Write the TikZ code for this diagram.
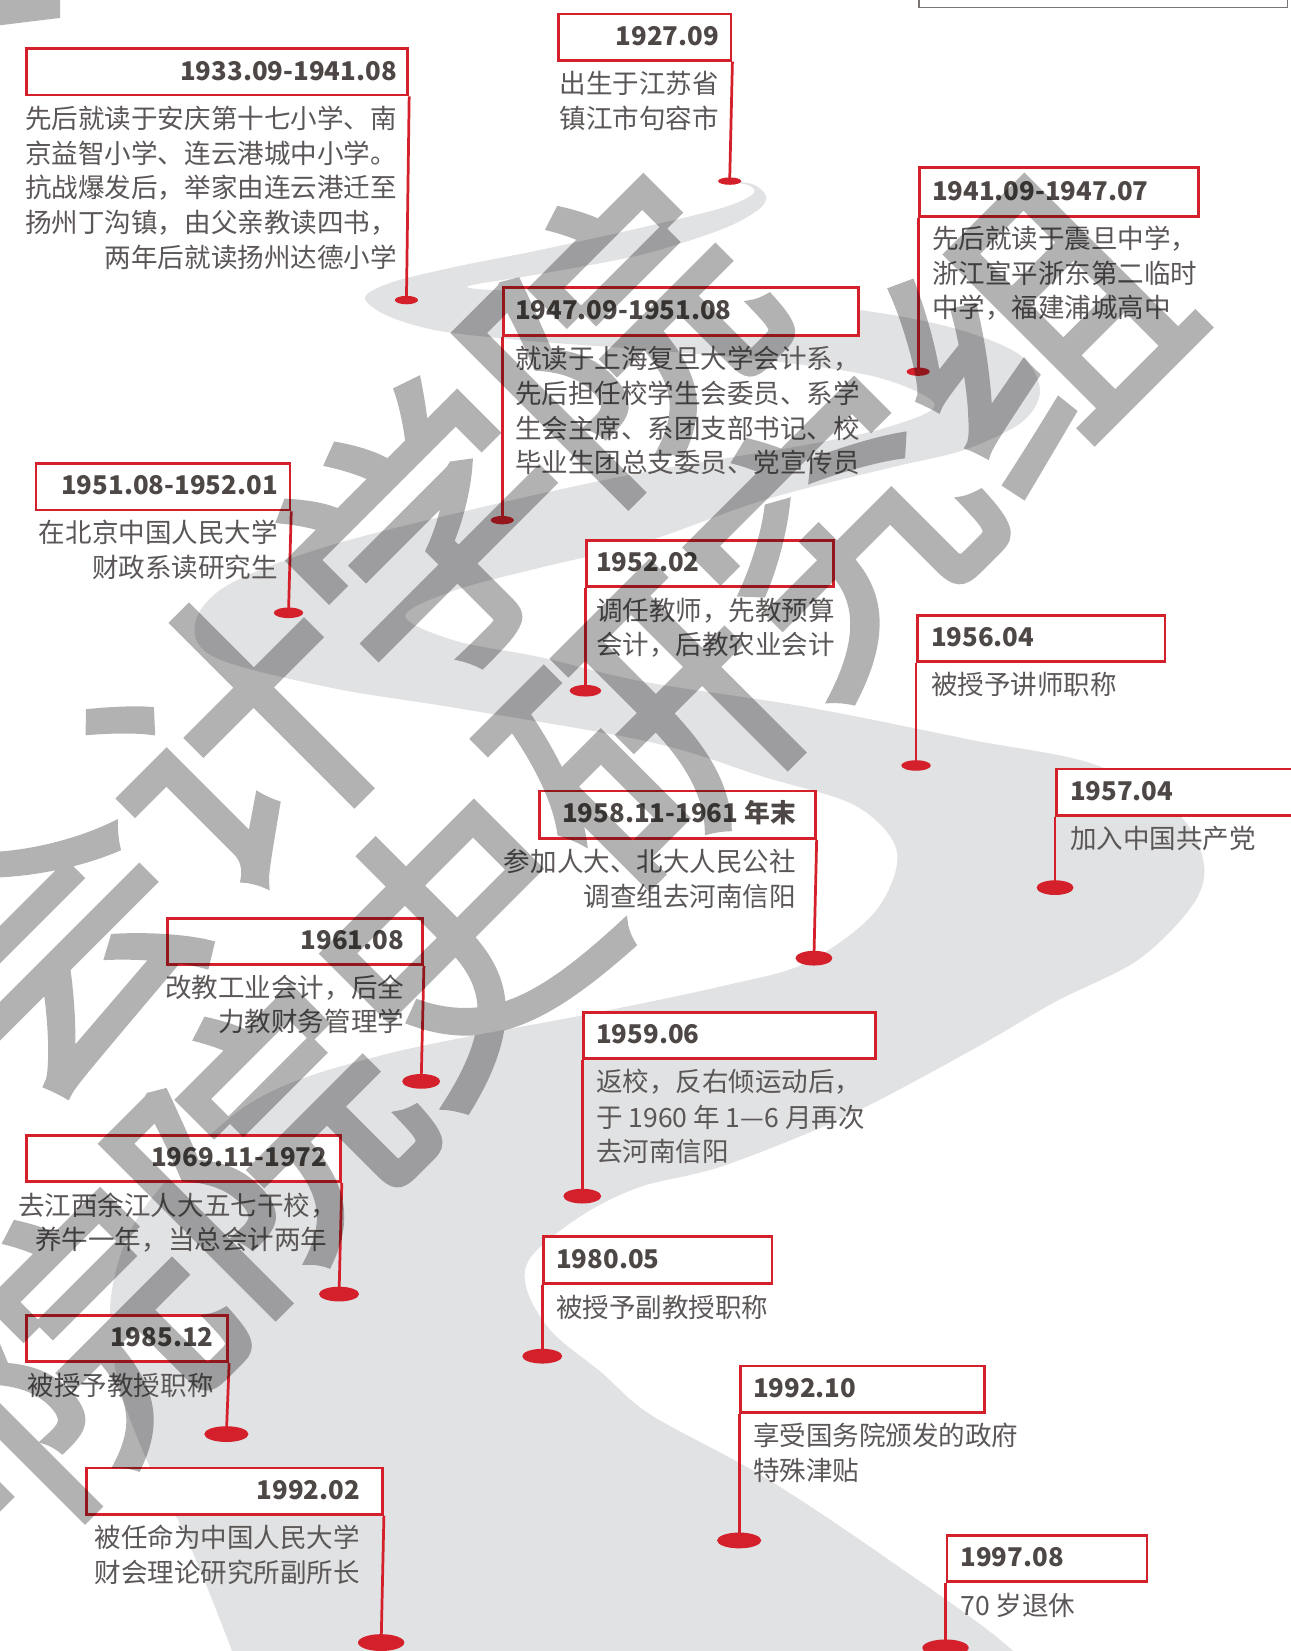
\documentclass[tikz,border=0pt]{standalone}
\usepackage{fontspec}
\setmainfont{Noto Sans CJK SC}
\newfontfamily\wmfont[FakeBold=2.5]{Noto Sans CJK SC}
\usetikzlibrary{shapes.geometric}
\definecolor{rred}{HTML}{D4202A}
\definecolor{datec}{HTML}{4D4846}
\definecolor{bodyc}{HTML}{5B5756}
\definecolor{road}{HTML}{E1E2E4}
\definecolor{framec}{HTML}{7A7573}
\tikzset{
  evbox/.style={rectangle, draw=rred, line width=2.6pt, fill=white, inner sep=0pt, anchor=north west},
  evdot/.style={ellipse, fill=rred, inner sep=0pt},
  evstem/.style={draw=rred, line width=2.6pt},
  datetxt/.style={inner sep=0pt, text=datec, font=\fontsize{24.5}{24.5}\selectfont\bfseries},
  bodytxt/.style={inner sep=0pt, text=bodyc, font=\fontsize{25.2}{25.2}\selectfont},
  wmark/.style={inner sep=0pt, rotate=45, text=black, font=\wmfont\fontsize{265}{265}\selectfont},
}
\begin{document}
\begin{tikzpicture}[x=1pt,y=-1pt]
\useasboundingbox (0,0) rectangle (1226,1568);
\clip (0,0) rectangle (1226,1568);
\fill[white] (0,0) rectangle (1226,1568);

% winding road
\begin{scope}[scale=0.94967]
\fill[road] plot[smooth cycle, tension=0.55] coordinates {
(722,181) (748,185) (753,194) (722,208) (640,228) (540,250) (450,268) (390,283) (365,298)
(388,316) (440,331) (530,341) (650,350) (780,362) (880,378) (935,405) (885,428) (800,446)
(650,471) (500,503) (332,545) (228,585) (195,624) (216,658) (332,688) (456,708) (650,742)
(764,777) (856,806) (897,852) (875,912) (806,963) (723,986) (600,1012) (383,1055) (249,1104)
(145,1207) (112,1290) (116,1373) (145,1456) (187,1539) (232,1651) (255,1720)
(1060,1720) (1013,1651) (889,1560) (764,1477) (651,1415) (602,1373) (552,1332) (527,1290)
(531,1257) (581,1216) (640,1187) (723,1166) (847,1116) (972,1050) (1055,1002) (1138,960)
(1192,906) (1204,865) (1179,815) (1096,765) (972,740) (806,707) (645,682) (539,657)
(456,641) (405,616) (456,590) (539,568) (645,542) (764,500) (889,468) (964,450) (1022,422)
(1040,390) (1020,355) (960,330) (880,313) (780,302) (650,296) (540,292) (467,287)
(540,274) (640,255) (720,230) (758,210) (766,196) (752,184)};
\end{scope}

% top-right empty frame
\node[rectangle, draw=framec, line width=1.4pt, inner sep=0pt, anchor=south west, minimum width=350pt, minimum height=40pt] (topframe) at (872,8) {};

% ---------- boxes ----------
\node[evbox, minimum width=164pt, minimum height=44pt] (b1) at (529,12) {};
\node[evbox, minimum width=362pt, minimum height=44pt] (b2) at (24,45) {};
\node[evbox, minimum width=265pt, minimum height=46pt] (b3) at (872,158) {};
\node[evbox, minimum width=337pt, minimum height=45pt] (b4) at (477,272) {};
\node[evbox, minimum width=241pt, minimum height=44pt] (b5) at (33,439) {};
\node[evbox, minimum width=234pt, minimum height=44pt] (b6) at (556,512) {};
\node[evbox, minimum width=235pt, minimum height=44pt] (b7) at (870,583) {};
\node[evbox, minimum width=250pt, minimum height=44pt] (b8) at (1002,729) {};
\node[evbox, minimum width=262pt, minimum height=45pt] (b9) at (511,750) {};
\node[evbox, minimum width=242pt, minimum height=44pt] (b10) at (158,871) {};
\node[evbox, minimum width=277pt, minimum height=44pt] (b11) at (553,960) {};
\node[evbox, minimum width=298pt, minimum height=44pt] (b12) at (24,1077) {};
\node[evbox, minimum width=217pt, minimum height=45pt] (b13) at (515,1173) {};
\node[evbox, minimum width=191pt, minimum height=44pt] (b14) at (24,1248) {};
\node[evbox, minimum width=232pt, minimum height=44pt] (b15) at (702,1296) {};
\node[evbox, minimum width=281pt, minimum height=44pt] (b16) at (81,1393) {};
\node[evbox, minimum width=190pt, minimum height=44pt] (b17) at (898,1457) {};

% ---------- dots ----------
\node[evdot, minimum width=22pt, minimum height=7pt] (p1) at (693,172) {};
\node[evdot, minimum width=22pt, minimum height=8pt] (p2) at (386,285) {};
\node[evdot, minimum width=22pt, minimum height=8pt] (p3) at (872,353) {};
\node[evdot, minimum width=22pt, minimum height=8pt] (p4) at (477,494) {};
\node[evdot, minimum width=28pt, minimum height=10pt] (p5) at (274,582) {};
\node[evdot, minimum width=30pt, minimum height=11pt] (p6) at (556,656) {};
\node[evdot, minimum width=28pt, minimum height=10pt] (p7) at (870,727) {};
\node[evdot, minimum width=35pt, minimum height=14pt] (p8) at (1002,843) {};
\node[evdot, minimum width=35pt, minimum height=14pt] (p9) at (773,910) {};
\node[evdot, minimum width=36pt, minimum height=14pt] (p10) at (400,1027) {};
\node[evdot, minimum width=36pt, minimum height=14pt] (p11) at (553,1136) {};
\node[evdot, minimum width=38pt, minimum height=14pt] (p12) at (322,1229) {};
\node[evdot, minimum width=38pt, minimum height=14pt] (p13) at (515,1288) {};
\node[evdot, minimum width=42pt, minimum height=15pt] (p14) at (215,1362) {};
\node[evdot, minimum width=42pt, minimum height=15pt] (p15) at (702,1463) {};
\node[evdot, minimum width=44pt, minimum height=16pt] (p16) at (362,1560) {};
\node[evdot, minimum width=44pt, minimum height=16pt] (p17) at (898,1565) {};

% ---------- stems ----------
\draw[evstem] (b1.south east) -- (p1.center);
\draw[evstem] (b2.south east) -- (p2.center);
\draw[evstem] (b3.south west) -- (p3.center);
\draw[evstem] (b4.south west) -- (p4.center);
\draw[evstem] (b5.south east) -- (p5.center);
\draw[evstem] (b6.south west) -- (p6.center);
\draw[evstem] (b7.south west) -- (p7.center);
\draw[evstem] (b8.south west) -- (p8.center);
\draw[evstem] (b9.south east) -- (p9.center);
\draw[evstem] (b10.south east) -- (p10.center);
\draw[evstem] (b11.south west) -- (p11.center);
\draw[evstem] (b12.south east) -- (p12.center);
\draw[evstem] (b13.south west) -- (p13.center);
\draw[evstem] (b14.south east) -- (p14.center);
\draw[evstem] (b15.south west) -- (p15.center);
\draw[evstem] (b16.south east) -- (p16.center);
\draw[evstem] (b17.south west) -- (p17.center);

% ---------- dates ----------
\node[datetxt, anchor=base east] (d1) at (683,43) {1927.09};
\node[datetxt, anchor=base east] (d2) at (377,76) {1933.09-1941.08};
\node[datetxt, anchor=base west] (d3) at (885,190) {1941.09-1947.07};
\node[datetxt, anchor=base west] (d4) at (489,303.5) {1947.09-1951.08};
\node[datetxt, anchor=base east] (d5) at (264,470) {1951.08-1952.01};
\node[datetxt, anchor=base west] (d6) at (566,543) {1952.02};
\node[datetxt, anchor=base west] (d7) at (884,614) {1956.04};
\node[datetxt, anchor=base west] (d8) at (1016,760) {1957.04};
\node[datetxt, anchor=base east] (d9) at (756,781.5) {1958.11-1961 年末};
\node[datetxt, anchor=base east] (d10) at (384,902) {1961.08};
\node[datetxt, anchor=base west] (d11) at (566,991) {1959.06};
\node[datetxt, anchor=base east] (d12) at (311,1108) {1969.11-1972};
\node[datetxt, anchor=base west] (d13) at (528,1204.5) {1980.05};
\node[datetxt, anchor=base east] (d14) at (203,1279) {1985.12};
\node[datetxt, anchor=base west] (d15) at (715,1327) {1992.10};
\node[datetxt, anchor=base east] (d16) at (342,1424) {1992.02};
\node[datetxt, anchor=base west] (d17) at (912,1488) {1997.08};

% ---------- body text ----------
\node[bodytxt, anchor=base east] (t1a) at (683,89) {出生于江苏省};
\node[bodytxt, anchor=base east] (t1b) at (683,122) {镇江市句容市};

\node[bodytxt, anchor=base east] (t2a) at (377,122) {先后就读于安庆第十七小学、南};
\node[bodytxt, anchor=base east] (t2b) at (377,155) {京益智小学、连云港城中小学。};
\node[bodytxt, anchor=base east] (t2c) at (377,188) {抗战爆发后，举家由连云港迁至};
\node[bodytxt, anchor=base east] (t2d) at (377,221) {扬州丁沟镇，由父亲教读四书，};
\node[bodytxt, anchor=base east] (t2e) at (377,254) {两年后就读扬州达德小学};

\node[bodytxt, anchor=base west] (t3a) at (885,236) {先后就读于震旦中学，};
\node[bodytxt, anchor=base west] (t3b) at (885,269) {浙江宣平浙东第二临时};
\node[bodytxt, anchor=base west] (t3c) at (885,302) {中学，福建浦城高中};

\node[bodytxt, anchor=base west] (t4a) at (489,350) {就读于上海复旦大学会计系，};
\node[bodytxt, anchor=base west] (t4b) at (489,383) {先后担任校学生会委员、系学};
\node[bodytxt, anchor=base west] (t4c) at (489,416) {生会主席、系团支部书记、校};
\node[bodytxt, anchor=base west] (t4d) at (489,449) {毕业生团总支委员、党宣传员};

\node[bodytxt, anchor=base east] (t5a) at (264,515) {在北京中国人民大学};
\node[bodytxt, anchor=base east] (t5b) at (264,548) {财政系读研究生};

\node[bodytxt, anchor=base west] (t6a) at (566,589) {调任教师，先教预算};
\node[bodytxt, anchor=base west] (t6b) at (566,622) {会计，后教农业会计};

\node[bodytxt, anchor=base west] (t7a) at (884,660) {被授予讲师职称};

\node[bodytxt, anchor=base west] (t8a) at (1016,806) {加入中国共产党};

\node[bodytxt, anchor=base east] (t9a) at (756,828) {参加人大、北大人民公社};
\node[bodytxt, anchor=base east] (t9b) at (756,861) {调查组去河南信阳};

\node[bodytxt, anchor=base east] (t10a) at (384,947) {改教工业会计，后全};
\node[bodytxt, anchor=base east] (t10b) at (384,980) {力教财务管理学};

\node[bodytxt, anchor=base west] (t11a) at (566,1037) {返校，反右倾运动后，};
\node[bodytxt, anchor=base west] (t11b) at (566,1071) {于 1960 年 1—6 月再次};
\node[bodytxt, anchor=base west] (t11c) at (566,1103) {去河南信阳};

\node[bodytxt, anchor=base east] (t12a) at (320,1154) {去江西余江人大五七干校，};
\node[bodytxt, anchor=base east] (t12b) at (311,1187) {养牛一年，当总会计两年};

\node[bodytxt, anchor=base west] (t13a) at (528,1251) {被授予副教授职称};

\node[bodytxt, anchor=base east] (t14a) at (203,1325) {被授予教授职称};

\node[bodytxt, anchor=base west] (t15a) at (715,1373) {享受国务院颁发的政府};
\node[bodytxt, anchor=base west] (t15b) at (715,1406) {特殊津贴};

\node[bodytxt, anchor=base east] (t16a) at (342,1470) {被任命为中国人民大学};
\node[bodytxt, anchor=base east] (t16b) at (342,1503) {财会理论研究所副所长};

\node[bodytxt, anchor=base west] (t17a) at (912,1534) {70 岁退休};

% ---------- watermark ----------
\begin{scope}[transparency group, opacity=0.3]
\node[wmark] (wa1) at (46,894) {会};
\node[wmark] (wa2) at (227,701) {计};
\node[wmark] (wa3) at (408,508) {学};
\node[wmark] (wa4) at (589,315) {院};
\node[wmark] (wb1) at (-108,1471) {学};
\node[wmark] (wb2) at (73,1278) {院};
\node[wmark] (wb3) at (254,1085) {院};
\node[wmark] (wb4) at (435,892) {史};
\node[wmark] (wb5) at (616,699) {研};
\node[wmark] (wb6) at (797,506) {究};
\node[wmark] (wb7) at (978,313) {组};
\fill[black] (0,0) -- (57,0) -- (57,17) -- (0,24) -- cycle;
\end{scope}
\end{tikzpicture}
\end{document}
